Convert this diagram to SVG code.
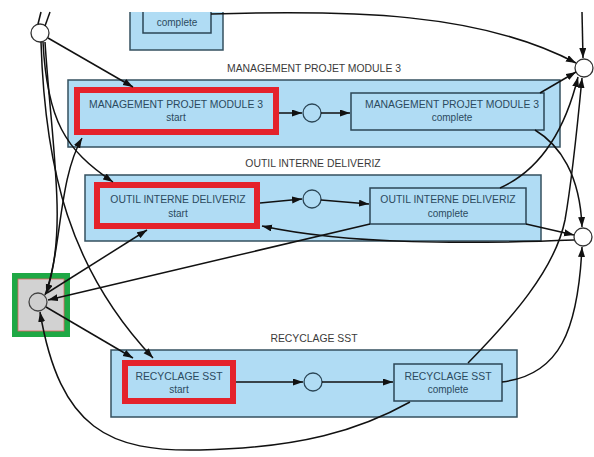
<svg xmlns="http://www.w3.org/2000/svg" width="594" height="457" viewBox="0 0 594 457">
<style>
.cl{fill:#b0dcf4;stroke:#34505f;stroke-width:1.5}
.tr{fill:#b0dcf4;stroke:#2b4656;stroke-width:1.5}
.hl{fill:#b0dcf4;stroke:#e4222b;stroke-width:6}
.pl{fill:#fff;stroke:#333;stroke-width:1.3}
.pi{fill:#b0dcf4;stroke:#2b4656;stroke-width:1.3}
.t1{font-family:"Liberation Sans",Arial,sans-serif;font-size:10.4px;fill:#2b4a5e;text-anchor:middle}
.t2{font-family:"Liberation Sans",Arial,sans-serif;font-size:10px;fill:#2b4a5e;text-anchor:middle}
.lb{font-family:"Liberation Sans",Arial,sans-serif;font-size:10.4px;fill:#3a3a3a;text-anchor:middle}
.e{fill:none;stroke:#111;stroke-width:1.5}
.ea{fill:none;stroke:#111;stroke-width:1.5;marker-end:url(#ah)}
</style>
<defs>
<marker id="ah" markerUnits="userSpaceOnUse" markerWidth="11" markerHeight="8" refX="10" refY="3.5" orient="auto">
<path d="M0,0 L10,3.5 L0,7 z" fill="#111"/>
</marker>
</defs>
<rect width="594" height="457" fill="#fff"/>

<g id="cluster-top">
<rect x="130" y="12" width="93" height="38" fill="#b0dcf4"/>
<path d="M130,12 V50 H223 V12" fill="none" stroke="#34505f" stroke-width="1.5"/>
</g>
<g id="top-complete">
<rect x="143" y="12" width="68" height="21" fill="#b0dcf4"/>
<path d="M143,12 V33 H211 V12" fill="none" stroke="#2b4656" stroke-width="1.5"/>
<text class="t2" x="177" y="26">complete</text>
</g>

<g id="cluster-mpm3">
<rect class="cl" x="68" y="80" width="492" height="67"/>
<text class="lb" x="314" y="72">MANAGEMENT PROJET MODULE 3</text>
</g>
<g id="cluster-oid">
<rect class="cl" x="85" y="175" width="456" height="66"/>
<text class="lb" x="313" y="167">OUTIL INTERNE DELIVERIZ</text>
</g>
<g id="cluster-rsst">
<rect class="cl" x="111" y="350" width="406" height="67"/>
<text class="lb" x="314" y="342">RECYCLAGE SST</text>
</g>

<g id="mpm3-start">
<rect class="hl" x="77" y="90" width="199" height="42"/>
<text class="t1" x="176" y="108">MANAGEMENT PROJET MODULE 3</text>
<text class="t2" x="176" y="121">start</text>
</g>
<g id="mpm3-place"><circle class="pi" cx="312" cy="113" r="9"/></g>
<g id="mpm3-complete">
<rect class="tr" x="351" y="93" width="193" height="37"/>
<text class="t1" x="452" y="108">MANAGEMENT PROJET MODULE 3</text>
<text class="t2" x="452" y="121">complete</text>
</g>

<g id="oid-start">
<rect class="hl" x="97" y="185" width="160" height="41"/>
<text class="t1" x="178" y="203">OUTIL INTERNE DELIVERIZ</text>
<text class="t2" x="178" y="217">start</text>
</g>
<g id="oid-place"><circle class="pi" cx="312" cy="199" r="9"/></g>
<g id="oid-complete">
<rect class="tr" x="370" y="188" width="156" height="36"/>
<text class="t1" x="448" y="203">OUTIL INTERNE DELIVERIZ</text>
<text class="t2" x="448" y="217">complete</text>
</g>

<g id="rsst-start">
<rect class="hl" x="125" y="363" width="108" height="38"/>
<text class="t1" x="179" y="380">RECYCLAGE SST</text>
<text class="t2" x="179" y="393">start</text>
</g>
<g id="rsst-place"><circle class="pi" cx="313" cy="382" r="9"/></g>
<g id="rsst-complete">
<rect class="tr" x="394" y="364" width="108" height="37"/>
<text class="t1" x="448" y="380">RECYCLAGE SST</text>
<text class="t2" x="448" y="393">complete</text>
</g>

<g id="place-top-left"><circle class="pl" cx="40" cy="33" r="9"/></g>
<g id="place-top-right"><circle class="pl" cx="584" cy="68" r="9"/></g>
<g id="place-mid-right"><circle class="pl" cx="583" cy="237" r="9"/></g>
<g id="place-selected">
<rect x="15" y="276" width="52" height="58" fill="#d2d2d2" stroke="#1fa845" stroke-width="6"/>
<rect x="18" y="279" width="46" height="52" fill="none" stroke="#e06060" stroke-width="0.8"/>
<circle cx="38" cy="302" r="9" fill="#cfcfcf" stroke="#444" stroke-width="1.3"/>
</g>

<g id="connectors">
<path class="e" d="M38,24 L41,12"/>
<path class="e" d="M45,26 L50,12"/>
<path class="ea" d="M48,38 L133,87"/>
<path class="ea" d="M43,42 C47,120 65,150 113,182"/>
<path class="ea" d="M41,42 C45,170 70,270 153,358"/>
<path class="ea" d="M45,42 C52,150 68,230 46,294"/>
<path class="ea" d="M45,295 C62,250 58,180 82,138"/>
<path class="ea" d="M47,293 L147,230"/>
<path class="ea" d="M46,307 L133,358"/>
<path class="ea" d="M370,224 L48,300"/>
<path class="ea" d="M410,402 C360,430 300,448 200,450 C110,452 60,430 40,312"/>
<path class="ea" d="M574,240 C470,244 350,245 262,226"/>
<path class="ea" d="M279,113 L302,113"/>
<path class="ea" d="M321,113 L350,113"/>
<path class="ea" d="M260,203 L302,199"/>
<path class="ea" d="M321,200 L369,204"/>
<path class="ea" d="M236,382 L303,382"/>
<path class="ea" d="M322,382 L393,382"/>
<path class="ea" d="M211,14 C350,10 480,12 576,63"/>
<path class="ea" d="M582,12 L583,58"/>
<path class="ea" d="M540,93 L576,72"/>
<path class="ea" d="M535,130 C560,145 580,175 582,227"/>
<path class="ea" d="M500,188 C540,170 565,130 578,77"/>
<path class="ea" d="M468,363 C510,320 555,270 565,220 C572,180 578,120 582,78"/>
<path class="ea" d="M526,224 L574,235"/>
<path class="ea" d="M502,382 C560,375 578,330 582,247"/>
</g>
</svg>
